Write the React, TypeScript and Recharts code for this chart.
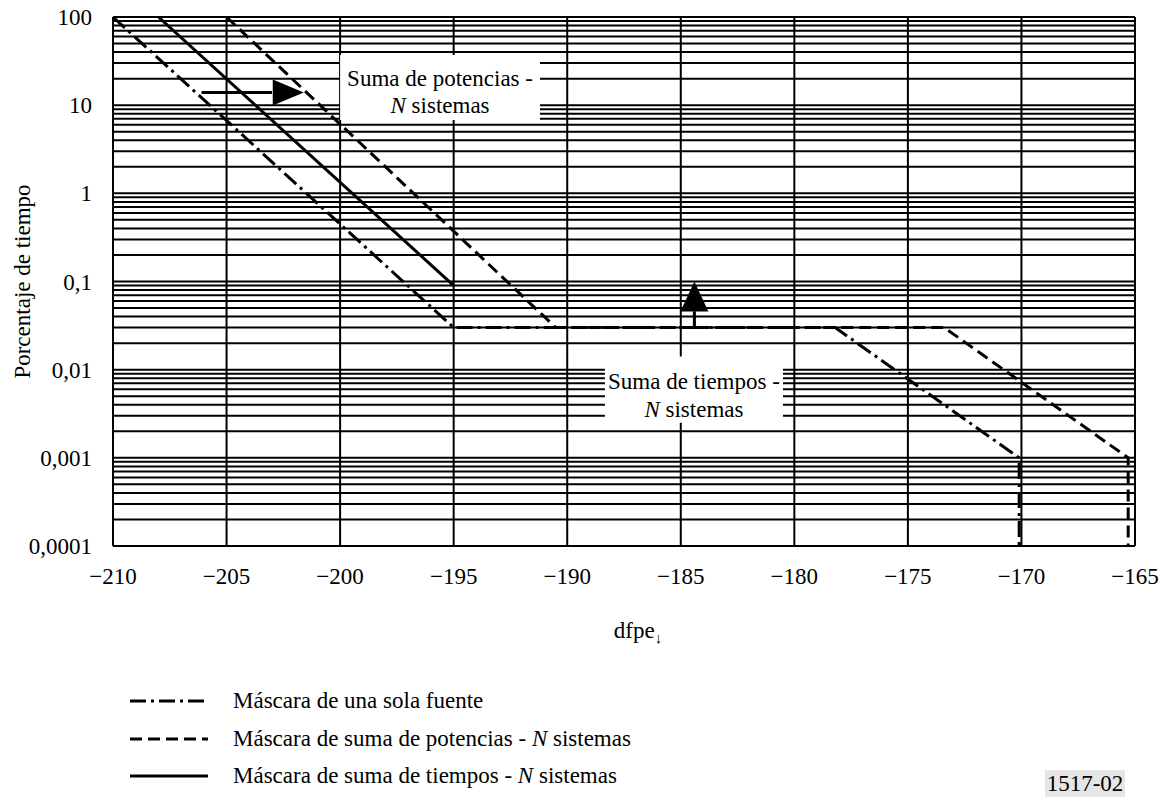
import {
  CartesianGrid,
  Line,
  LineChart,
  ReferenceArea,
  ReferenceDot,
  ReferenceLine,
  XAxis,
  YAxis,
} from "recharts";

document.body.style.margin = "0";

const FONT = "'Liberation Serif', 'Times New Roman', serif";

// axes
const xTicks = [-210, -205, -200, -195, -190, -185, -180, -175, -170, -165];
const yTicks = [0.0001, 0.001, 0.01, 0.1, 1, 10, 100];
const minorSteps = [1, 2, 3, 4, 5, 6, 7, 8, 9];
const yGrid = yTicks
  .slice(0, -1)
  .flatMap((decade) => minorSteps.map((k) => k * decade))
  .concat([100]);

// masks (dfpe, % of time)
const singleSourceX = [-210, -195, -178.2, -170.1, -170.1];
const singleSourceY = [100, 0.03, 0.03, 0.001, 0.0001];
const powerSumX = [-205, -190.5, -173.4, -165.3, -165.3];
const powerSumY = [100, 0.03, 0.03, 0.001, 0.0001];
const timeSumX = [-208, -195];
const timeSumY = [100, 0.09];

const toPoints = (xs: number[], ys: number[]) => xs.map((x, i) => ({ x, y: ys[i] }));

const singleSource = toPoints(singleSourceX, singleSourceY);
const powerSum = toPoints(powerSumX, powerSumY);
const timeSum = toPoints(timeSumX, timeSumY);

const DASH_DOT = "16 5 3 5";
const DASHED = "12 6";

const formatY = (v: number) => String(v).replace(".", ",");
const formatX = (v: number) => (v < 0 ? `\u2212${Math.abs(v)}` : String(v));

function BoxLabel({ viewBox, first, top1, top2 }: any) {
  if (!viewBox) return null;
  const cx = viewBox.x + viewBox.width / 2;
  return (
    <text fontFamily={FONT} fontSize={23} fill="#000" textAnchor="middle">
      <tspan x={cx} y={viewBox.y + top1}>
        {first}
      </tspan>
      <tspan x={cx} y={viewBox.y + top2}>
        <tspan fontStyle="italic">N</tspan> sistemas
      </tspan>
    </text>
  );
}

const legendItems = [
  { dash: DASH_DOT, text: "Máscara de una sola fuente", n: false },
  { dash: DASHED, text: "Máscara de suma de potencias - ", n: true },
  { dash: undefined, text: "Máscara de suma de tiempos - ", n: true },
];
const legendRows = [701, 739, 776];

export default function App() {
  return (
    <div style={{ position: "relative", width: 1159, height: 798, background: "#fff", fontFamily: FONT }}>
      <LineChart width={1159} height={798} margin={{ top: 17, right: 24, bottom: 192, left: 13 }}>
        <CartesianGrid stroke="#000" strokeWidth={2} horizontalValues={yGrid} />
        <XAxis
          type="number"
          dataKey="x"
          domain={[-210, -165]}
          ticks={xTicks}
          interval={0}
          tickFormatter={formatX}
          tickLine={false}
          tickSize={0}
          tickMargin={22}
          height={60}
          allowDataOverflow
          axisLine={{ stroke: "#000", strokeWidth: 2 }}
          tick={{ fill: "#000", fontSize: 23, fontFamily: FONT }}
          label={({ viewBox }: any) =>
            viewBox ? (
              <text
                x={viewBox.x + viewBox.width / 2 + 14}
                y={viewBox.y + 92}
                textAnchor="middle"
                fontFamily={FONT}
                fontSize={23}
                fill="#000"
              >
                dfpe
                <tspan fontSize={15} dy={5}>
                  ↓
                </tspan>
              </text>
            ) : null
          }
        />
        <YAxis
          type="number"
          scale="log"
          domain={[0.0001, 100]}
          ticks={yTicks}
          interval={0}
          tickFormatter={formatY}
          tickLine={false}
          tickSize={0}
          tickMargin={21}
          width={100}
          allowDataOverflow
          axisLine={{ stroke: "#000", strokeWidth: 2 }}
          tick={{ fill: "#000", fontSize: 23, fontFamily: FONT }}
          label={({ viewBox }: any) =>
            viewBox ? (
              <text
                x={viewBox.x + 9}
                y={viewBox.y + viewBox.height / 2}
                transform={`rotate(-90 ${viewBox.x + 9} ${viewBox.y + viewBox.height / 2})`}
                textAnchor="middle"
                dominantBaseline="central"
                fontFamily={FONT}
                fontSize={23}
                fill="#000"
              >
                Porcentaje de tiempo
              </text>
            ) : null
          }
        />

        <ReferenceArea
          x1={-200}
          x2={-191.2}
          y1={6.8}
          y2={37}
          fill="#fff"
          fillOpacity={1}
          stroke="none"
          ifOverflow="visible"
          label={(p: any) => <BoxLabel viewBox={p.viewBox} first="Suma de potencias -" top1={31} top2={58} />}
        />
        <ReferenceArea
          x1={-188.34}
          x2={-180.5}
          y1={0.0025}
          y2={0.01406}
          fill="#fff"
          fillOpacity={1}
          stroke="none"
          ifOverflow="visible"
          label={(p: any) => <BoxLabel viewBox={p.viewBox} first="Suma de tiempos -" top1={32} top2={60} />}
        />

        <Line
          data={singleSource}
          dataKey="y"
          type="linear"
          stroke="#000"
          strokeWidth={3}
          strokeDasharray={DASH_DOT}
          dot={false}
          activeDot={false}
          isAnimationActive={false}
        />
        <Line
          data={powerSum}
          dataKey="y"
          type="linear"
          stroke="#000"
          strokeWidth={3}
          strokeDasharray={DASHED}
          dot={false}
          activeDot={false}
          isAnimationActive={false}
        />
        <Line
          data={timeSum}
          dataKey="y"
          type="linear"
          stroke="#000"
          strokeWidth={3}
          dot={false}
          activeDot={false}
          isAnimationActive={false}
        />

        {/* arrows */}
        <ReferenceLine
          segment={[
            { x: -206.1, y: 13.9 },
            { x: -203, y: 13.9 },
          ]}
          stroke="#000"
          strokeWidth={3}
          ifOverflow="visible"
        />
        <ReferenceDot
          x={-201.6}
          y={13.9}
          r={0}
          ifOverflow="visible"
          shape={(p: any) => (
            <polygon
              points={`${p.cx},${p.cy} ${p.cx - 31},${p.cy - 13} ${p.cx - 31},${p.cy + 13}`}
              fill="#000"
            />
          )}
        />
        <ReferenceLine
          segment={[
            { x: -184.4, y: 0.03 },
            { x: -184.4, y: 0.046 },
          ]}
          stroke="#000"
          strokeWidth={3}
          ifOverflow="visible"
        />
        <ReferenceDot
          x={-184.4}
          y={0.1}
          r={0}
          ifOverflow="visible"
          shape={(p: any) => (
            <polygon
              points={`${p.cx},${p.cy} ${p.cx - 14},${p.cy + 30} ${p.cx + 14},${p.cy + 30}`}
              fill="#000"
            />
          )}
        />
      </LineChart>

      {legendItems.map((item, i) => (
        <div
          key={item.text}
          style={{
            position: "absolute",
            left: 130,
            top: legendRows[i] - 14,
            height: 28,
            display: "flex",
            alignItems: "center",
            fontSize: 23,
            color: "#000",
            whiteSpace: "nowrap",
          }}
        >
          <svg width={78} height={6} style={{ display: "block" }}>
            <line x1={0} y1={3} x2={78} y2={3} stroke="#000" strokeWidth={3} strokeDasharray={item.dash} />
          </svg>
          <span style={{ marginLeft: 25 }}>
            {item.text}
            {item.n && <i>N</i>}
            {item.n && " sistemas"}
          </span>
        </div>
      ))}

      <div
        style={{
          position: "absolute",
          left: 1045,
          top: 770,
          width: 80,
          height: 27,
          background: "#e6e6e6",
          fontSize: 23,
          lineHeight: "27px",
          textAlign: "center",
          color: "#000",
        }}
      >
        1517-02
      </div>
    </div>
  );
}
